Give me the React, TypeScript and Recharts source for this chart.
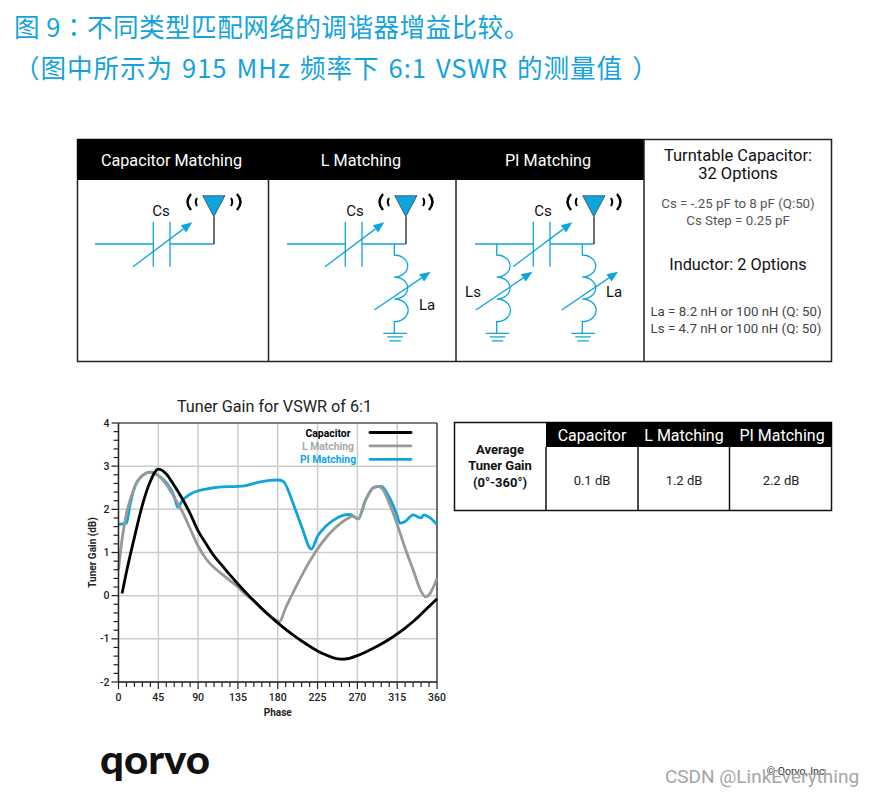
import { LineChart, Line, XAxis, YAxis, CartesianGrid, ReferenceLine, Label } from "recharts";

const FONT = "Roboto, sans-serif";
const BLUE = "#0ea5dc";

const xTicks = [0, 9, 18, 27, 36, 45, 54, 63, 72, 81, 90, 99, 108, 117, 126, 135, 144, 153, 162, 171, 180, 189, 198, 207, 216, 225, 234, 243, 252, 261, 270, 279, 288, 297, 306, 315, 324, 333, 342, 351, 360];
const xMajor = [0, 45, 90, 135, 180, 225, 270, 315, 360];
const yTicks = [-2, -1.8, -1.6, -1.4, -1.2, -1, -0.8, -0.6, -0.4, -0.2, 0, 0.2, 0.4, 0.6, 0.8, 1, 1.2, 1.4, 1.6, 1.8, 2, 2.2, 2.4, 2.6, 2.8, 3, 3.2, 3.4, 3.6, 3.8, 4];
const yMajor = [-2, -1, 0, 1, 2, 3, 4];

const capPhase = [4, 9, 18, 27, 36, 45, 54, 63, 72, 81, 90, 99, 108, 117, 126, 135, 144, 153, 162, 171, 180, 189, 198, 207, 216, 225, 234, 243, 252, 261, 270, 279, 288, 297, 306, 315, 324, 333, 342, 351, 360];
const capGain = [0.05, 0.55, 1.35, 2.1, 2.65, 2.93, 2.82, 2.55, 2.25, 1.9, 1.5, 1.2, 0.92, 0.7, 0.48, 0.27, 0.07, -0.12, -0.3, -0.47, -0.63, -0.78, -0.92, -1.05, -1.17, -1.28, -1.37, -1.44, -1.47, -1.45, -1.39, -1.31, -1.22, -1.12, -1.01, -0.885, -0.75, -0.6, -0.43, -0.25, -0.07];

const lPhase = [0, 4, 9, 18, 27, 36, 45, 54, 63, 72, 81, 90, 99, 108, 117, 126, 135, 144, 153, 162, 171, 182, 189, 198, 207, 216, 225, 234, 243, 252, 261, 265, 271, 279, 288, 292, 297, 306, 315, 324, 333, 342, 347, 351, 360];
const lGain = [0.6, 1.3, 1.9, 2.5, 2.78, 2.86, 2.78, 2.58, 2.28, 1.95, 1.55, 1.15, 0.85, 0.65, 0.5, 0.35, 0.2, 0.02, -0.12, -0.3, -0.46, -0.6, -0.28, 0.1, 0.46, 0.79, 1.08, 1.33, 1.53, 1.69, 1.81, 1.85, 1.78, 2.2, 2.5, 2.53, 2.5, 2.15, 1.65, 1.1, 0.6, 0.1, -0.03, 0.02, 0.4];

const piPhase = [0, 9, 13, 18, 27, 36, 45, 54, 63, 67, 72, 81, 90, 99, 108, 117, 135, 144, 153, 162, 171, 180, 186, 198, 207, 218, 225, 234, 243, 252, 261, 271, 279, 288, 297, 306, 315, 318, 324, 333, 342, 345, 351, 360];
const piGain = [1.65, 1.68, 2.1, 2.5, 2.78, 2.86, 2.78, 2.62, 2.3, 2.05, 2.2, 2.35, 2.43, 2.47, 2.5, 2.52, 2.53, 2.55, 2.6, 2.64, 2.67, 2.68, 2.65, 2.1, 1.6, 1.08, 1.38, 1.6, 1.75, 1.85, 1.88, 1.78, 2.2, 2.5, 2.53, 2.28, 1.85, 1.68, 1.72, 1.87, 1.8, 1.87, 1.82, 1.65];

const toRows = (phase: number[], gain: number[]) => phase.map((p, i) => ({ phase: p, gain: gain[i] }));

const legendItems = [
  { label: "Capacitor", color: "#000000" },
  { label: "L Matching", color: "#999999" },
  { label: "PI Matching", color: BLUE },
];

const avgHeaders = ["Capacitor", "L Matching", "PI Matching"];
const avgValues = ["0.1 dB", "1.2 dB", "2.2 dB"];
const avgLabel = ["Average", "Tuner Gain", "(0°-360°)"];
const topHeaders = ["Capacitor Matching", "L Matching", "PI Matching"];

function XTick({ x, y, payload }: any) {
  const major = xMajor.includes(payload.value);
  return (
    <g>
      <line x1={x} x2={x} y1={y} y2={y + (major ? 7 : 5)} stroke="#222" strokeWidth={1.2} />
      {major && <text x={x} y={y + 19} textAnchor="middle" fontSize={10.5} fontFamily={FONT} fontWeight={500} fill="#222">{payload.value}</text>}
    </g>
  );
}

function YTick({ x, y, payload }: any) {
  const major = yMajor.includes(payload.value);
  return (
    <g>
      <line x1={x} x2={x - (major ? 7 : 5)} y1={y} y2={y} stroke="#222" strokeWidth={1.2} />
      {major && <text x={x - 9} y={y} dy={3.5} textAnchor="end" fontSize={10.5} fontFamily={FONT} fontWeight={500} fill="#222">{payload.value}</text>}
    </g>
  );
}

function Antenna({ dx }: { dx: number }) {
  return (
    <g transform={`translate(${dx},0)`}>
      <path d="M202.7 195.7H225L213.8 216.7Z" fill={BLUE} stroke="#222" strokeWidth={0.6} />
      <path d="M214 216.7V244" stroke="#333" strokeWidth={1.4} fill="none" />
      <path d="M191 194Q184 202 191 210" stroke="#000" strokeWidth={2.4} fill="none" />
      <path d="M197 198Q194.5 202 197 206" stroke="#000" strokeWidth={2} fill="none" />
      <path d="M231 198Q233.5 202 231 206" stroke="#000" strokeWidth={2} fill="none" />
      <path d="M237 194Q244 202 237 210" stroke="#000" strokeWidth={2.4} fill="none" />
    </g>
  );
}

function Arrow({ x1, y1, x2, y2 }: { x1: number; y1: number; x2: number; y2: number }) {
  const a = Math.atan2(y2 - y1, x2 - x1);
  const len = 11;
  const w = 4.5;
  const bx = x2 - len * Math.cos(a);
  const by = y2 - len * Math.sin(a);
  const px = -Math.sin(a) * w;
  const py = Math.cos(a) * w;
  return (
    <g>
      <line x1={x1} y1={y1} x2={bx} y2={by} stroke={BLUE} strokeWidth={1.3} />
      <path d={`M${x2} ${y2}L${bx + px} ${by + py}L${bx - px} ${by - py}Z`} fill={BLUE} />
    </g>
  );
}

function Capacitor({ dx }: { dx: number }) {
  return (
    <g transform={`translate(${dx},0)`}>
      <path d="M95 244H153.3M170 244H214M153.3 221.7V266.7M170 221.7V266.7" stroke={BLUE} strokeWidth={1.3} fill="none" />
      <Arrow x1={133} y1={266.7} x2={192.3} y2={222.3} />
    </g>
  );
}

function Inductor({ x, ax }: { x: number; ax: number }) {
  const coil = `M${x} 244V255A13.4 11 0 0 1 ${x} 277A13.4 11 0 0 1 ${x} 299A13.4 11 0 0 1 ${x} 321.7V333`;
  return (
    <g>
      <path d={coil} stroke={BLUE} strokeWidth={1.3} fill="none" />
      <path d={`M${x - 11} 333.3H${x + 12.5}M${x - 7} 336.8H${x + 8.5}M${x - 5} 340.8H${x + 6.5}`} stroke={BLUE} strokeWidth={1.2} fill="none" />
      <Arrow x1={ax} y1={310} x2={ax + 56.4} y2={271.7} />
    </g>
  );
}

function Txt({ x, y, size, children, color = "#111", anchor = "middle", weight = 400 }: any) {
  return (
    <text x={x} y={y} dy="0.35em" fontSize={size} fontFamily={FONT} fill={color} textAnchor={anchor} fontWeight={weight}>{children}</text>
  );
}

const headingStyle = { position: "absolute", left: 14, fontSize: 25.6, lineHeight: "34px", color: "#12a3de", fontFamily: "'Noto Sans CJK SC', sans-serif", whiteSpace: "nowrap" } as const;

export default function App() {
  return (
    <div style={{ position: "absolute", left: 0, top: 0, width: 875, height: 796, background: "#fff", overflow: "hidden" }}>
      {/* Heading */}
      <div style={{ ...headingStyle, top: 9, letterSpacing: 0.45 }}>图 9<span style={{ fontFamily: "'Noto Sans CJK TC', sans-serif" }}>：</span>不同类型匹配网络的调谐器增益比较。</div>
      <div style={{ ...headingStyle, top: 50, wordSpacing: 2.5, letterSpacing: 0.9 }}>（图中所示为 915 MHz 频率下 6:1 VSWR 的测量值 ）</div>

      {/* Schematics and tables */}
      <svg width={875} height={796} style={{ position: "absolute", left: 0, top: 0 }}>
        <rect x={77.5} y={139.5} width={754} height={222} fill="none" stroke="#222" strokeWidth={1.5} />
        <rect x={77} y={139} width={567} height={41} fill="#000" />
        <path d="M268.5 180V362M456 180V362M644 139V362" stroke="#222" strokeWidth={1.5} />
        {topHeaders.map((h, i) => (
          <Txt key={h} x={[171.5, 361, 548][i]} y={160.5} size={16.2} color="#fff">{h}</Txt>
        ))}

        <Capacitor dx={0} />
        <Antenna dx={0} />
        <Txt x={161} y={211} size={15}>Cs</Txt>

        <Capacitor dx={192} />
        <Antenna dx={192} />
        <Inductor x={394.3} ax={374.3} />
        <Txt x={355} y={211} size={15}>Cs</Txt>
        <Txt x={427} y={305} size={15}>La</Txt>

        <Capacitor dx={380} />
        <Antenna dx={380} />
        <Inductor x={496.7} ax={476} />
        <Inductor x={582.3} ax={561.7} />
        <Txt x={543} y={211} size={15}>Cs</Txt>
        <Txt x={473} y={291.5} size={15}>Ls</Txt>
        <Txt x={614} y={291.5} size={15}>La</Txt>

        <Txt x={738} y={155.5} size={16.5}>Turntable Capacitor:</Txt>
        <Txt x={738} y={173.5} size={16.5}>32 Options</Txt>
        <Txt x={738} y={203} size={13.3} color="#555">Cs = -.25 pF to 8 pF (Q:50)</Txt>
        <Txt x={738} y={220} size={13.3} color="#555">Cs Step = 0.25 pF</Txt>
        <Txt x={738} y={264} size={16.3}>Inductor: 2 Options</Txt>
        <Txt x={736} y={311} size={13.3} color="#444">La = 8.2 nH or 100 nH (Q: 50)</Txt>
        <Txt x={736} y={328} size={13.3} color="#444">Ls = 4.7 nH or 100 nH (Q: 50)</Txt>

        <rect x={454.5} y={422.5} width={377} height={88} fill="none" stroke="#111" strokeWidth={1.5} />
        <rect x={546} y={422} width={286} height={25} fill="#000" />
        <path d="M546 447V511M638 447V511M729.5 447V511" stroke="#111" strokeWidth={1.5} />
        {avgHeaders.map((h, i) => (
          <Txt key={h} x={[592, 684, 782][i]} y={435} size={16} color="#fff">{h}</Txt>
        ))}
        {avgValues.map((v, i) => (
          <Txt key={v} x={[592, 684, 781][i]} y={480} size={13} color="#222">{v}</Txt>
        ))}
        {avgLabel.map((t, i) => (
          <Txt key={t} x={500} y={449 + i * 16.5} size={13} weight={700} color="#111">{t}</Txt>
        ))}
      </svg>

      {/* Gain chart */}
      <div style={{ position: "absolute", left: 60, top: 400, width: 400, height: 320 }}>
        <LineChart width={400} height={320} margin={{ top: 23, right: 23, bottom: 8, left: 0 }}>
          <CartesianGrid stroke="#cccccc" strokeWidth={1.5} horizontalValues={yMajor} verticalValues={xMajor} />
          <XAxis type="number" dataKey="phase" domain={[0, 360]} ticks={xTicks} interval={0} height={30} allowDuplicatedCategory={false}
            tick={XTick} tickLine={false} tickSize={0} tickMargin={0} axisLine={{ stroke: "#222", strokeWidth: 1.4 }}>
            <Label value="Phase" position="insideBottom" offset={-4} style={{ fontSize: 10, fontWeight: 700, fontFamily: FONT, fill: "#222" }} />
          </XAxis>
          <YAxis type="number" domain={[-2, 4]} ticks={yTicks} interval={0} width={58.5}
            tick={YTick} tickLine={false} tickSize={0} tickMargin={0} axisLine={{ stroke: "#222", strokeWidth: 1.4 }}>
            <Label value="Tuner Gain (dB)" angle={-90} position="insideLeft" offset={32} style={{ fontSize: 10, fontWeight: 700, fontFamily: FONT, fill: "#222", textAnchor: "middle" }} />
          </YAxis>
          <ReferenceLine x={360} stroke="#222" strokeWidth={1.2} />
          <ReferenceLine y={4} stroke="#222" strokeWidth={1.2} />
          <Line data={toRows(piPhase, piGain)} dataKey="gain" type="monotone" stroke={BLUE} strokeWidth={2.8} dot={false} isAnimationActive={false} />
          <Line data={toRows(lPhase, lGain)} dataKey="gain" type="monotone" stroke="#999999" strokeWidth={2.8} dot={false} isAnimationActive={false} />
          <Line data={toRows(capPhase, capGain)} dataKey="gain" type="monotone" stroke="#000000" strokeWidth={2.8} dot={false} isAnimationActive={false} />
        </LineChart>
      </div>

      {/* Chart title, legend, logo, footers */}
      <svg width={875} height={796} style={{ position: "absolute", left: 0, top: 0, pointerEvents: "none" }}>
        <Txt x={274.5} y={406.5} size={16.2} color="#222">Tuner Gain for VSWR of 6:1</Txt>
        {legendItems.map((item, i) => (
          <g key={item.label}>
            <Txt x={328} y={433 + i * 13.4} size={10.4} weight={700} color={item.color === "#999999" ? "#aaaaaa" : item.color}>{item.label}</Txt>
            <line x1={370} x2={411} y1={432.5 + i * 13.4} y2={432.5 + i * 13.4} stroke={item.color} strokeWidth={2.8} strokeLinecap="round" />
          </g>
        ))}
        <text x={100} y={774} fontSize={40} fontFamily="Lato, sans-serif" fontWeight={900} fill="#111" textLength={110} lengthAdjust="spacingAndGlyphs">qorvo</text>
        <Txt x={797} y={771} size={10.5} color="#333">© Qorvo, Inc.</Txt>
        <Txt x={762} y={776} size={19} color="#a5a5a5">CSDN @LinkEverything</Txt>
      </svg>
    </div>
  );
}
